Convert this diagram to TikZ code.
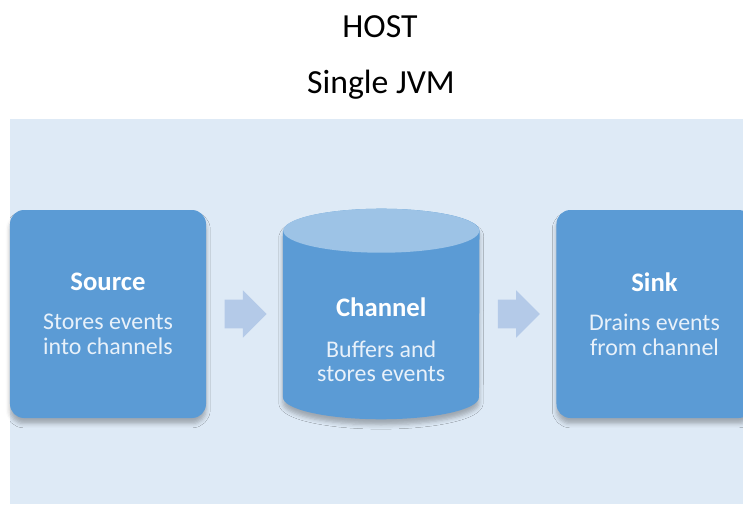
\documentclass[tikz,border=0pt]{standalone}
\usepackage{fontspec}
\setmainfont{Carlito}
\usetikzlibrary{positioning,shapes.arrows,shadows.blur}
\definecolor{boxblue}{RGB}{91,155,213}
\definecolor{topblue}{RGB}{157,195,230}
\definecolor{arrowblue}{RGB}{180,202,232}
\definecolor{panelblue}{RGB}{222,234,246}
\definecolor{paletext}{RGB}{232,241,250}

\begin{document}
\begin{tikzpicture}[%
    node distance=0.45cm,
    softshadow/.style={%
      blur shadow={shadow xshift=0pt,shadow yshift=-4pt,
        shadow blur radius=3pt,shadow opacity=28}},
    stage/.style={%
      rectangle,rounded corners=0.35cm,fill=boxblue,text=paletext,
      minimum width=4.9cm,minimum height=5.2cm,align=center,
      font=\fontsize{17}{17.7}\selectfont,softshadow},
    stagetext/.style={%
      text=paletext,align=center,font=\fontsize{17}{17.7}\selectfont},
    head/.style={text=white,font=\fontsize{19}{20}\selectfont\bfseries},
    flow/.style={%
      single arrow,fill=arrowblue,minimum height=1.05cm,
      inner xsep=0pt,inner ysep=0.35cm,
      single arrow head extend=0.235cm,single arrow head indent=0pt},
    store/.style={%
      inner sep=0pt,minimum width=4.9cm,minimum height=5.25cm},
    title/.style={font=\fontsize{24}{26}\selectfont}
  ]
    \useasboundingbox (0,0) rectangle (18.575,12.6);
    \clip (0,0) rectangle (18.575,12.6);
    \fill[panelblue] (0.25,0) rectangle (18.575,9.62);

    \node[title] (host) at (9.5,11.925) {HOST};
    \node[title] (jvm)  at (9.525,10.475) {Single JVM};

    \node[stage] (source) at (2.7,4.75)
      {{\color{white}\fontsize{19}{20}\selectfont\bfseries Source}\\[10pt]Stores events\\into channels};
    \node[flow] (flowa) [right=of source] {};

    % the channel drum
    \node[store] (channel) [node distance=0.4cm, right=of flowa] {};
    \path[fill=boxblue,softshadow] ([yshift=-0.55cm]channel.north west)
      -- ([yshift=0.55cm]channel.south west)
      arc[start angle=180,end angle=360,x radius=2.45cm,y radius=0.55cm]
      -- ([yshift=-0.55cm]channel.north east)
      arc[start angle=0,end angle=180,x radius=2.45cm,y radius=0.55cm]
      -- cycle;
    \fill[topblue] ([yshift=-0.55cm]channel.north) ellipse [x radius=2.45cm,y radius=0.55cm];
    \node[stagetext] (chanlabel) at ([yshift=-0.65cm]channel.center)
      {{\color{white}\fontsize{19}{20}\selectfont\bfseries Channel}\\[11pt]Buffers and\\stores events};

    \node[flow] (flowb) [right=of channel] {};
    \node[stage] (sink) [node distance=0.4cm, right=of flowb]
      {{\color{white}\fontsize{19}{20}\selectfont\bfseries Sink}\\[10pt]Drains events\\from channel};
\end{tikzpicture}
\end{document}
